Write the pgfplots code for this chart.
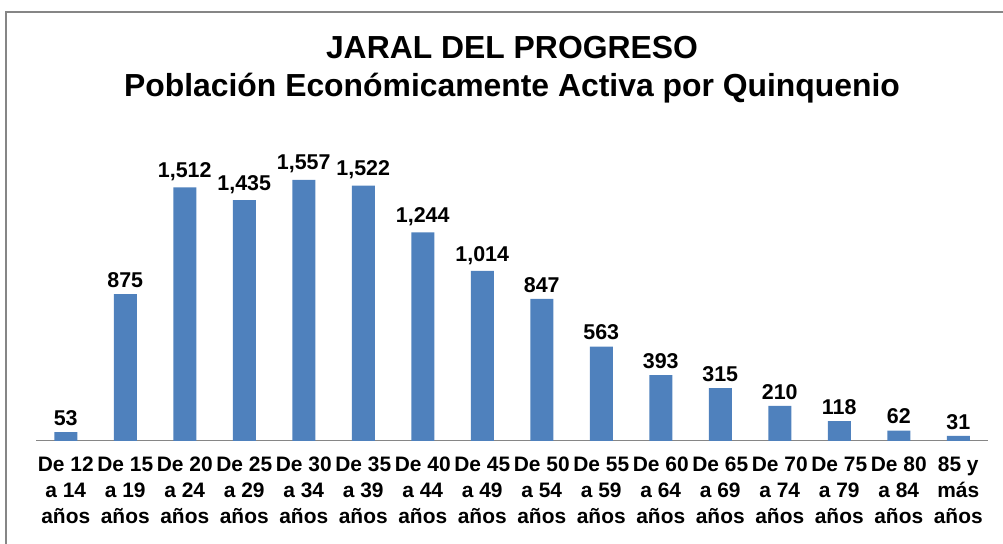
\documentclass[border=0pt]{standalone}
\usepackage{fontspec}
\setmainfont{Liberation Sans}
\usepackage{pgfplots}
\pgfplotsset{compat=1.18}
\definecolor{barblue}{HTML}{4F81BD}
\definecolor{framegray}{HTML}{868686}
\begin{document}
\begin{tikzpicture}[x=1bp,y=1bp]
\path[use as bounding box] (0,0) rectangle (1003,544);
\draw[framegray,line width=1.5bp] (6,532) rectangle (1020,-20);
\node[font=\bfseries\fontsize{32}{36}\selectfont] at (512,496) {JARAL DEL PROGRESO};
\node[font=\bfseries\fontsize{32}{36}\selectfont] at (512,456) {Población Económicamente Activa por Quinquenio};
\begin{axis}[
  at={(65.75bp,103bp)}, anchor=origin,
  scale only axis, width=952bp, height=302bp,
  ymin=0, ymax=1800, xmin=-0.5, xmax=15.5,
  axis x line=bottom, axis y line=none,
  axis line style={draw=framegray, line width=1bp, -},
  x axis line style={-},
  xtick=data, major tick length=0pt,
  xticklabels={{\strut De 12\\a 14\\años},{\strut De 15\\a 19\\años},{\strut De 20\\a 24\\años},{\strut De 25\\a 29\\años},{\strut De 30\\a 34\\años},{\strut De 35\\a 39\\años},{\strut De 40\\a 44\\años},{\strut De 45\\a 49\\años},{\strut De 50\\a 54\\años},{\strut De 55\\a 59\\años},{\strut De 60\\a 64\\años},{\strut De 65\\a 69\\años},{\strut De 70\\a 74\\años},{\strut De 75\\a 79\\años},{\strut De 80\\a 84\\años},{\strut 85 y\\más\\años}},
  xticklabel style={align=center, anchor=north, font=\bfseries\fontsize{21}{26}\selectfont, yshift=-9bp},
  ybar, bar width=23bp,
  nodes near coords,
  nodes near coords style={font=\bfseries\fontsize{21.5}{24}\selectfont, anchor=south, yshift=3bp,
    /pgf/number format/.cd, 1000 sep={,}, assume math mode=true},
  clip=false,
]
\addplot[fill=barblue, draw=none] coordinates {
(0,53) (1,875) (2,1512) (3,1435) (4,1557) (5,1522) (6,1244) (7,1014)
(8,847) (9,563) (10,393) (11,315) (12,210) (13,118) (14,62) (15,31)};
\end{axis}
\end{tikzpicture}
\end{document}
